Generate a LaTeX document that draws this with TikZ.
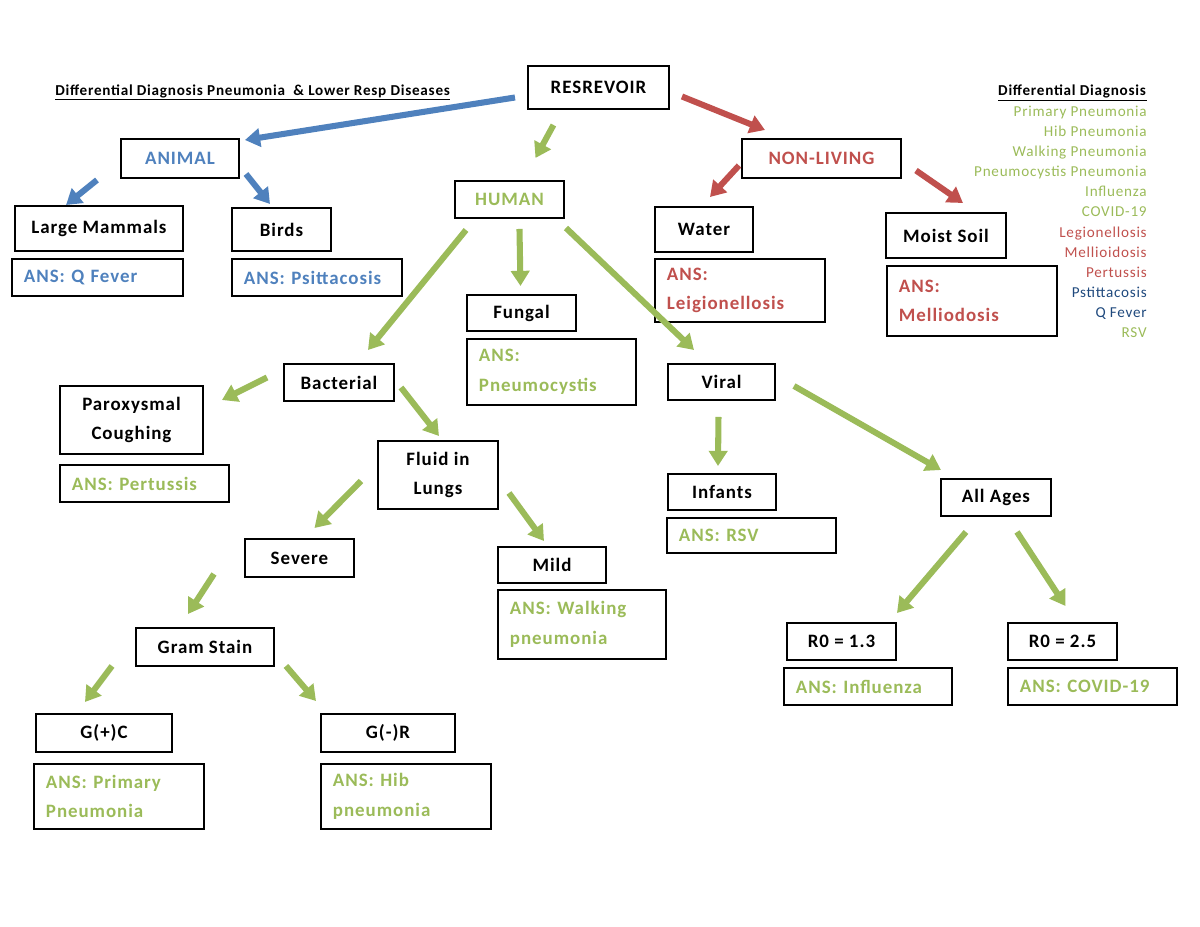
\documentclass[tikz,border=0pt]{standalone}
\usepackage{fontspec}
\setmainfont{Carlito}[LetterSpace=5]
\usetikzlibrary{arrows.meta, positioning}
\definecolor{ansblue}{HTML}{4F81BD}
\definecolor{ansred}{HTML}{C0504D}
\definecolor{ansgreen}{HTML}{9BBB59}
\definecolor{navy}{HTML}{1F497D}

\tikzset{
  box/.style 2 args={draw, line width=1.3pt, anchor=north west, inner sep=0pt, align=center,
    font=\fontsize{12.5}{19.5}\selectfont\bfseries, minimum width=#1*0.66pt, minimum height=#2*0.66pt},
  ans/.style 2 args={box={#1}{#2}, align=left,
    /utils/exec={\pgfmathsetlengthmacro\answd{(#1-24)*0.66pt}}, text width=\answd},
  arr/.style={line width=4pt, -{Triangle[length=10pt,width=12pt]}},
}

\begin{document}
\begin{tikzpicture}[x=0.66pt, y=-0.66pt]
	\useasboundingbox (0,0) rectangle (1200,927);
	% headings
	\node[anchor=base west, inner sep=0pt, font=\fontsize{10}{12}\selectfont\bfseries] (title) at (55,95) {\underline{Differential Diagnosis Pneumonia \ \& Lower Resp Diseases}};
	\node[anchor=north east, align=right, inner sep=0pt, font=\fontsize{10}{13.3}\selectfont] (legend) at (1147,85) {%
		\underline{\textbf{Differential Diagnosis}}\\
		\color{ansgreen}Primary Pneumonia\\
		\color{ansgreen}Hib Pneumonia\\
		\color{ansgreen}Walking Pneumonia\\
		\color{ansgreen}Pneumocystis Pneumonia\\
		\color{ansgreen}Influenza\\
		\color{ansgreen}COVID-19\\
		\color{ansred}Legionellosis\\
		\color{ansred}Mellioidosis\\
		\color{ansred}Pertussis\\
		\color{navy}Pstittacosis\\
		\color{navy}Q Fever\\
		\color{ansgreen}RSV};

	% top level
	\node[box={141}{43}] (resrevoir) at (527,65) {RESREVOIR};
	\node[box={118}{39}, text=ansblue] (animal) at (120,138) {ANIMAL};
	\node[box={109}{37}, text=ansgreen] (human) at (454,180) {HUMAN};
	\node[box={159}{39}, text=ansred] (nonliving) at (741,138) {NON-LIVING};

	% animal
	\node[box={168}{45}] (mammals) at (14,205) {Large Mammals};
	\node[box={99}{43}] (birds) at (231,207) {Birds};
	\node[ans={171}{37}, text=ansblue] (qfever) at (11,258) {ANS: Q Fever};
	\node[ans={170}{37}, text=ansblue] (psitt) at (231,258) {ANS: Psittacosis};

	% non-living
	\node[box={98}{45}] (water) at (654,206) {Water};
	\node[ans={170}{63}, text=ansred] (legion) at (654,258) {ANS:\\Leigionellosis};
	\node[box={120}{45}] (soil) at (885,212) {Moist Soil};
	\node[ans={170}{70}, text=ansred] (mellio) at (886,265) {ANS:\\Melliodosis};

	% human
	\node[box={109}{36}] (fungal) at (466,294) {Fungal};
	\node[ans={169}{66}, text=ansgreen] (pneumo) at (466,338) {ANS:\\Pneumocystis};
	\node[box={110}{37}] (bacterial) at (283,363) {Bacterial};
	\node[box={107}{36}] (viral) at (667,363) {Viral};

	% bacterial
	\node[box={143}{68}] (parox) at (59,385) {Paroxysmal\\Coughing};
	\node[ans={169}{37}, text=ansgreen] (pertussis) at (59,464) {ANS: Pertussis};
	\node[box={120}{68}] (fluid) at (377,440) {Fluid in\\Lungs};
	\node[box={109}{38}] (severe) at (244,538) {Severe};
	\node[box={108}{36}] (mild) at (497,546) {Mild};
	\node[ans={168}{69}, text=ansgreen] (walking) at (497,589) {ANS: Walking\\pneumonia};
	\node[box={138}{38}] (gram) at (135,627) {Gram Stain};
	\node[box={136}{38}] (gpc) at (35,713) {G(+)C};
	\node[box={134}{38}] (gnr) at (320,713) {G(-)R};
	\node[ans={170}{65}, text=ansgreen] (primary) at (33,763) {ANS: Primary\\Pneumonia};
	\node[ans={170}{65}, text=ansgreen] (hib) at (320,763) {ANS: Hib\\pneumonia};

	% viral
	\node[box={108}{36}] (infants) at (667,473) {Infants};
	\node[ans={169}{35}, text=ansgreen] (rsv) at (666,517) {ANS: RSV};
	\node[box={110}{37}] (allages) at (940,478) {All Ages};
	\node[box={109}{37}] (rone) at (786,622) {R0 = 1.3};
	\node[box={109}{37}] (rtwo) at (1007,622) {R0 = 2.5};
	\node[ans={168}{37}, text=ansgreen] (influenza) at (783,667) {ANS: Influenza};
	\node[ans={169}{37}, text=ansgreen] (covid) at (1007,667) {ANS: COVID-19};

	% arrows
	\draw[arr, ansblue] ([shift={(-12,10)}]resrevoir.west) -- ([shift={(5,2)}]animal.north east);
	\draw[arr, ansblue] ([shift={(-23,1)}]animal.south west) -- ([shift={(52,0)}]mammals.north west);
	\draw[arr, ansblue] ([shift={(6,-5)}]animal.south east) -- ([shift={(39,-3)}]birds.north west);
	\draw[arr, ansgreen] ([shift={(-45,15)}]resrevoir.south) -- ([shift={(26,-22)}]human.north);
	\draw[arr, ansred] ([shift={(12,9)}]resrevoir.east) -- ([shift={(24,-8)}]nonliving.north west);
	\draw[arr, ansred] ([shift={(-2,7)}]nonliving.west) -- ([shift={(6,-9)}]water.north);
	\draw[arr, ansred] ([shift={(14,12)}]nonliving.east) -- ([shift={(17,-9)}]soil.north);
	\draw[arr, ansgreen] ([shift={(12,11)}]human.south west) -- ([shift={(29,-13)}]bacterial.north);
	\draw[arr, ansgreen] ([shift={(10,10)}]human.south) -- ([shift={(-1,-8)}]fungal.north);
	\draw[arr, ansgreen] ([shift={(1,9)}]human.south east) -- ([shift={(27,-13)}]viral.north west);
	\draw[arr, ansgreen] ([shift={(-16,-5)}]bacterial.west) -- ([shift={(18,15)}]parox.north east);
	\draw[arr, ansgreen] ([shift={(6,5)}]bacterial.east) -- ([shift={(1,-4)}]fluid.north);
	\draw[arr, ansgreen] ([shift={(-16,6)}]fluid.west) -- ([shift={(15,-10)}]severe.north);
	\draw[arr, ansgreen] ([shift={(10,18)}]fluid.east) -- ([shift={(-8,-5)}]mild.north);
	\draw[arr, ansgreen] ([shift={(-30,16)}]severe.west) -- ([shift={(-17,-13)}]gram.north);
	\draw[arr, ansgreen] ([shift={(-23,-1)}]gram.south west) -- ([shift={(-19,-11)}]gpc.north);
	\draw[arr, ansgreen] ([shift={(11,-1)}]gram.south east) -- ([shift={(-4,-12)}]gnr.north west);
	\draw[arr, ansgreen] ([shift={(-3,16)}]viral.south) -- ([shift={(-4,-7)}]infants.north);
	\draw[arr, ansgreen] ([shift={(18,4)}]viral.east) -- ([shift={(1,-8)}]allages.north west);
	\draw[arr, ansgreen] ([shift={(-30,15)}]allages.south) -- ([shift={(0,-9)}]rone.north east);
	\draw[arr, ansgreen] ([shift={(21,15)}]allages.south) -- ([shift={(3,-16)}]rtwo.north);
\end{tikzpicture}
\end{document}
